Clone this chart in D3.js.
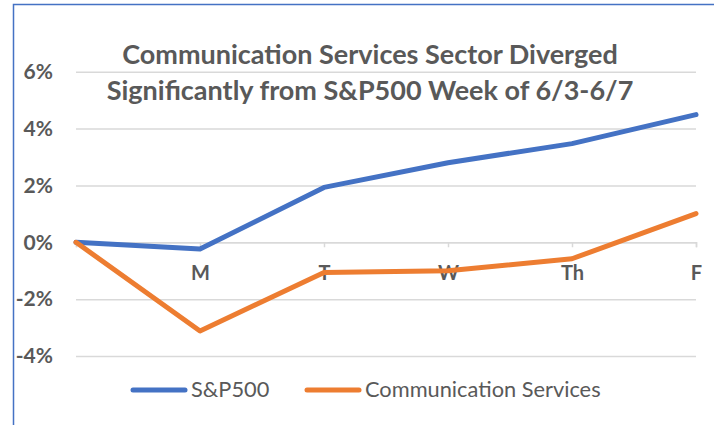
<!DOCTYPE html>
<html>
<head>
<meta charset="utf-8">
<script src="https://cdn.jsdelivr.net/npm/d3@7"></script>
<style>
  body { margin: 0; background: #fff; }
  svg { display: block; font-family: Lato, "Liberation Sans", sans-serif; }
</style>
</head>
<body>
<svg id="chart" width="714" height="425"></svg>
<script>
const days = ["", "M", "T", "W", "Th", "F"];
const sp500 = [0, -0.24, 1.93, 2.8, 3.47, 4.49];
const commServices = [0, -3.12, -1.06, -1.0, -0.58, 1.01];
const yTicks = [-4, -2, 0, 2, 4, 6];
const titleLines = ["Communication Services Sector Diverged", "Significantly from S&P500 Week of 6/3-6/7"];

const series = [
  { name: "S&P500", values: sp500, color: "#4472C4" },
  { name: "Communication Services", values: commServices, color: "#ED7D31" }
];

const svg = d3.select("#chart");
const textColor = "#595959";
const gridColor = "#D9D9D9";

// chart border (cropped on the right and bottom like the source)
svg.append("rect")
  .attr("x", 13.5).attr("y", 4.5)
  .attr("width", 800).attr("height", 500)
  .attr("fill", "none")
  .attr("stroke", "#4472C4")
  .attr("stroke-width", 1.5);

const plotLeft = 76, plotRight = 696, plotTop = 71.7, plotBottom = 356;

const x = d3.scalePoint().domain(days).range([plotLeft, plotRight]);
const y = d3.scaleLinear().domain([-4, 6]).range([plotBottom, plotTop]);

// gridlines + y labels
const yAxis = svg.append("g")
  .attr("transform", `translate(${plotLeft},0)`)
  .call(d3.axisLeft(y).tickValues(yTicks).tickSize(-(plotRight - plotLeft)).tickPadding(23).tickFormat(d => d + "%"));
yAxis.select(".domain").remove();
yAxis.selectAll("line").attr("stroke", gridColor).attr("stroke-width", 1.5);
yAxis.selectAll("text")
  .attr("fill", textColor)
  .style("font-size", "21px")
  .style("font-weight", "bold")
  .style("font-family", "Lato, sans-serif");

// category axis at zero
const xAxis = svg.append("g")
  .attr("transform", `translate(0,${y(0)})`)
  .call(d3.axisBottom(x).tickSize(5).tickPadding(19));
xAxis.select(".domain").attr("stroke", gridColor).attr("stroke-width", 1.5);
xAxis.selectAll("line").attr("stroke", gridColor).attr("stroke-width", 1.5);
xAxis.selectAll("text")
  .attr("fill", textColor)
  .style("font-size", "20px")
  .style("font-weight", "bold")
  .style("font-family", "Lato, sans-serif");

// lines
const line = d3.line()
  .x((d, i) => x(days[i]))
  .y(d => y(d));

svg.selectAll("path.series")
  .data(series)
  .enter()
  .append("path")
  .attr("class", "series")
  .attr("d", d => line(d.values))
  .attr("fill", "none")
  .attr("stroke", d => d.color)
  .attr("stroke-width", 5)
  .attr("stroke-linejoin", "round")
  .attr("stroke-linecap", "round");

// title
svg.append("g")
  .selectAll("text")
  .data(titleLines)
  .enter()
  .append("text")
  .attr("x", 370)
  .attr("y", (d, i) => 64 + i * 36)
  .attr("text-anchor", "middle")
  .attr("fill", textColor)
  .style("font-size", "27px")
  .style("font-weight", "bold")
  .text(d => d);

// legend
const legendPos = [133, 307];
const legend = svg.append("g");
series.forEach((s, i) => {
  legend.append("line")
    .attr("x1", legendPos[i]).attr("x2", legendPos[i] + 52)
    .attr("y1", 390).attr("y2", 390)
    .attr("stroke", s.color)
    .attr("stroke-width", 5)
    .attr("stroke-linecap", "round");
  legend.append("text")
    .attr("x", legendPos[i] + 58)
    .attr("y", 397)
    .attr("fill", textColor)
    .style("font-size", "21.8px")
    .text(s.name);
});
</script>
</body>
</html>
